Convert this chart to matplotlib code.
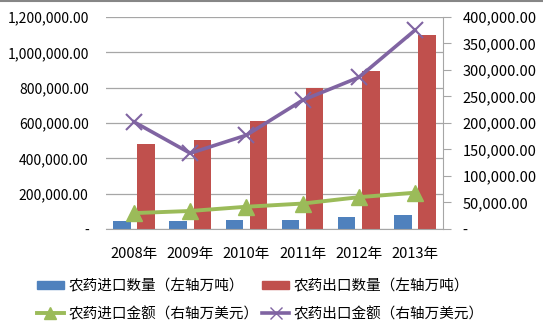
import matplotlib
matplotlib.use("Agg")
import matplotlib.pyplot as plt
import numpy as np
from matplotlib.patches import Patch
from matplotlib.lines import Line2D
from matplotlib.ticker import FuncFormatter, MultipleLocator

plt.rcParams['font.family'] = ['Noto Sans CJK SC', 'DejaVu Sans']

years = ["2008年", "2009年", "2010年", "2011年", "2012年", "2013年"]
import_qty = [45000, 45000, 52000, 51000, 68000, 77000]
export_qty = [483000, 504000, 611000, 796000, 896000, 1098000]
import_val = [30000, 34000, 42000, 48000, 60000, 68500]
export_val = [202000, 143000, 177000, 243000, 286000, 375000]
labels = ["农药进口数量（左轴万吨）", "农药出口数量（左轴万吨）",
          "农药进口金额（右轴万美元）", "农药出口金额（右轴万美元）"]

c_blue, c_red, c_green, c_purple = "#4F81BD", "#C0504D", "#9BBB59", "#8064A2"
grid_c = "#A6A6A6"

fig = plt.figure(figsize=(5.43, 3.23), dpi=100)
ax = fig.add_axes([106/543, 1-229/323, (443-106)/543, (229-17)/323])
x = np.arange(len(years))
w = 0.31
ax.bar(x - 0.215, import_qty, width=w, color=c_blue, zorder=2)
ax.bar(x + 0.215, export_qty, width=w, color=c_red, zorder=2)
ax.set_xlim(-0.5, len(years) - 0.5)
ax.set_ylim(0, 1200000)
ax.yaxis.set_major_locator(MultipleLocator(200000))
fmt = FuncFormatter(lambda v, p: "-" if abs(v) < 1e-6 else f"{v:,.2f}")
ax.yaxis.set_major_formatter(fmt)
ax.grid(axis='y', color=grid_c, linewidth=0.9, zorder=0)
ax.set_axisbelow(True)
for s in ['left', 'top', 'right']:
    ax.spines[s].set_visible(False)
ax.spines['bottom'].set_color(grid_c)
ax.set_xticks(x)
ax.set_xticklabels(years, fontsize=10.5)
ax.tick_params(axis='x', length=0, pad=13)
ax.tick_params(axis='y', length=0, labelsize=10, pad=12.5)

ax2 = ax.twinx()
ax2.plot(x, import_val, color=c_green, linewidth=2.8, marker='^', markersize=11, zorder=3)
ax2.plot(x, export_val, color=c_purple, linewidth=2.6, marker='x', markersize=11,
         markeredgewidth=1.5, zorder=3)
ax2.set_ylim(0, 400000)
ax2.yaxis.set_major_locator(MultipleLocator(50000))
ax2.yaxis.set_major_formatter(fmt)
for s in ['left', 'top', 'bottom']:
    ax2.spines[s].set_visible(False)
ax2.spines['right'].set_color(grid_c)
ax2.tick_params(axis='y', length=6, color=grid_c, labelsize=10.5, pad=8)

handles = [Patch(color=c_blue),
           Line2D([], [], color=c_green, linewidth=2.8, marker='^', markersize=8),
           Patch(color=c_red),
           Line2D([], [], color=c_purple, linewidth=2.6, marker='x', markersize=8)]
hl = [labels[0], labels[2], labels[1], labels[3]]
fig.legend(handles, hl, ncol=2, loc='center left', bbox_to_anchor=(37/543, 1-300/323),
           frameon=False, fontsize=10.5, handlelength=1.85, handleheight=0.55,
           columnspacing=0.25, handletextpad=0.3, labelspacing=0.94,
           borderpad=0, borderaxespad=0)

fig.add_artist(Line2D([0, 1], [1 - 0.6/323, 1 - 0.6/323], transform=fig.transFigure,
                      color="#868686", linewidth=1.5))
fig.savefig("out.png", dpi=100)
